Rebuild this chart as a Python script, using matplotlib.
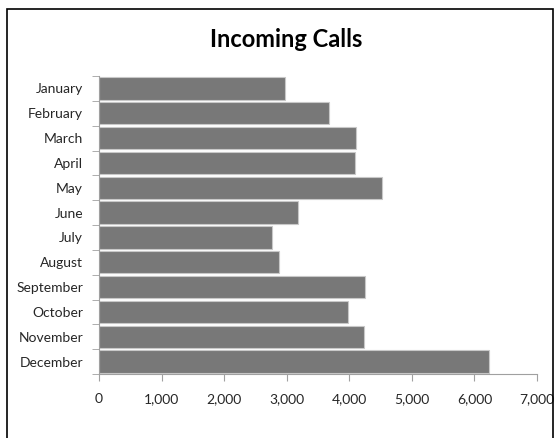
import matplotlib.pyplot as plt
from matplotlib.patches import Rectangle
import numpy as np

months = ['January', 'February', 'March', 'April', 'May', 'June', 'July',
          'August', 'September', 'October', 'November', 'December']
calls = [2970, 3670, 4110, 4090, 4530, 3180, 2760, 2880, 4250, 3980, 4230, 6230]
x_ticks = [0, 1000, 2000, 3000, 4000, 5000, 6000, 7000]

plt.rcParams['font.family'] = ['Lato', 'DejaVu Sans']

fig = plt.figure(figsize=(5.57, 4.38), dpi=100)
ax = fig.add_axes([0.1777, 0.146, 0.7863, 0.6805])

# cadre noir autour du graphique
fig.patches.append(Rectangle((7 / 557, -0.01), 546 / 557, 1 - 9 / 438 + 0.01,
                             transform=fig.transFigure, fill=False,
                             edgecolor='black', linewidth=1.2))

y = np.arange(len(months))
ax.barh(y, calls, height=0.9, color='#787878', edgecolor='#c8c8c8', linewidth=0.8)

ax.set_ylim(len(months) - 0.5, -0.5)
ax.set_xlim(0, 7000)
ax.set_yticks(y)
ax.set_yticklabels(months, fontsize=10, color='#262626')
ax.set_yticks(np.arange(-0.5, len(months)), minor=True)
ax.tick_params(axis='y', which='major', length=0, pad=11.5)
ax.tick_params(axis='y', which='minor', length=5, color='#a0a0a0', direction='out')
ax.set_xticks(x_ticks)
ax.set_xticklabels([f'{v:,}' for v in x_ticks], fontsize=10, color='#262626')
ax.tick_params(axis='x', length=5, color='#a0a0a0', pad=9)

for s in ['top', 'right']:
    ax.spines[s].set_visible(False)
for s in ['left', 'bottom']:
    ax.spines[s].set_color('#a0a0a0')

fig.text(0.513, 0.91, 'Incoming Calls', ha='center', va='center',
         fontsize=17, fontweight='bold')

fig.savefig('out.png', dpi=100)
